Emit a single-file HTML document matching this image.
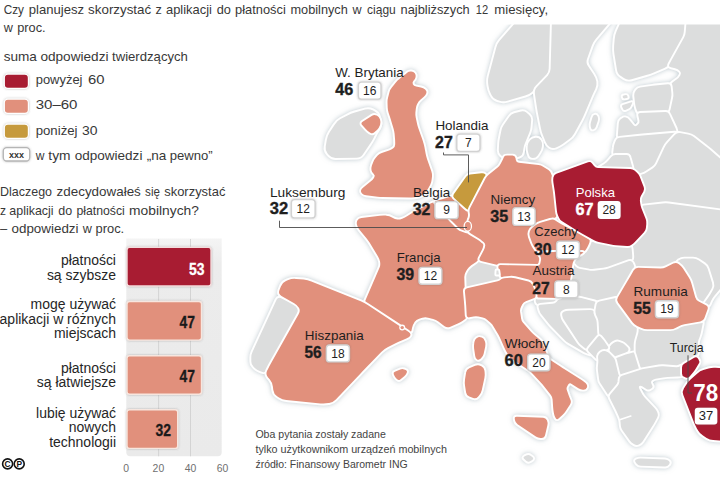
<!DOCTYPE html>
<html><head><meta charset="utf-8"><title>Infografika</title>
<style>
html,body{margin:0;padding:0;background:#fff;}
body{width:720px;height:497px;overflow:hidden;}
svg{display:block;font-family:"Liberation Sans",sans-serif;}
.land path,.land circle,.land ellipse{stroke:#fff;stroke-width:3.8;stroke-linejoin:round;paint-order:stroke;}
</style></head><body>
<svg width="720" height="497" viewBox="0 0 720 497">
<defs>
<clipPath id="mapclip"><rect x="236" y="24.5" width="484" height="472.5"/></clipPath>
<filter id="glow" x="-5%" y="-5%" width="110%" height="110%">
<feGaussianBlur in="SourceAlpha" stdDeviation="2.4" result="b"/>
<feFlood flood-color="#8da1ab" flood-opacity="0.6"/><feComposite in2="b" operator="in" result="s"/>
<feMerge><feMergeNode in="s"/><feMergeNode in="SourceGraphic"/></feMerge>
</filter>
<filter id="glow2" x="-20%" y="-30%" width="140%" height="160%">
<feGaussianBlur in="SourceAlpha" stdDeviation="1.2" result="b"/>
<feFlood flood-color="#555" flood-opacity="0.38"/><feComposite in2="b" operator="in" result="s"/>
<feMerge><feMergeNode in="s"/><feMergeNode in="SourceGraphic"/></feMerge>
</filter>
<linearGradient id="pg" x1="0" y1="0" x2="0" y2="1"><stop offset="0" stop-color="#f4f4f4"/><stop offset="0.12" stop-color="#ececec"/><stop offset="1" stop-color="#eaeaea"/></linearGradient>
</defs>
<rect width="720" height="497" fill="#fff"/>
<g class="land">
<g clip-path="url(#mapclip)"><g filter="url(#glow)">
<path d="M516.9 21.0 Q519.5 18.0 523.5 18.0 L548.0 18.0 Q552.0 18.0 551.9 22.0 L550.6 68.8 Q550.5 72.8 547.8 75.7 L537.0 87.1 Q534.3 90.0 531.6 92.2 L531.6 92.2 Q528.9 94.5 525.1 95.6 L507.3 100.7 Q503.5 101.8 499.7 100.7 L497.4 100.1 Q493.6 99.0 491.8 95.4 L490.8 93.6 Q489.0 90.0 488.5 86.0 L488.2 84.0 Q487.7 80.0 488.7 76.1 L496.3 47.4 Q497.3 43.5 499.9 40.5Z" fill="#dcdddd"/>
<path d="M551.9 22.0 Q552.0 18.0 556.0 18.0 L609.5 18.0 Q613.5 18.0 610.9 21.0 L595.6 39.0 Q593.0 42.0 591.7 45.8 L587.0 58.9 Q585.7 62.7 587.9 66.0 L593.5 74.5 Q595.7 77.8 596.4 81.6 L596.4 81.6 Q597.0 85.4 595.3 89.0 L593.9 91.8 Q592.2 95.4 590.7 99.1 L584.7 113.3 Q583.2 117.0 581.3 120.5 L574.2 133.5 Q572.3 137.0 569.0 139.3 L562.9 143.7 Q559.6 146.0 556.0 147.4 L556.0 147.4 Q552.4 148.8 549.7 147.0 L549.7 147.0 Q547.0 145.2 545.5 141.5 L543.0 135.3 Q541.5 131.6 540.8 127.7 L537.7 111.9 Q537.0 108.0 536.4 104.0 L534.9 94.0 Q534.3 90.0 537.0 87.1 L547.8 75.7 Q550.5 72.8 550.6 68.8Z" fill="#dcdddd"/>
<path d="M592.5 117.2 Q593.0 115.3 594.9 114.8 L594.9 114.8 Q596.7 114.4 597.4 116.3 L597.8 117.1 Q598.5 119.0 597.8 120.9 L595.7 127.1 Q595.0 129.0 593.1 129.4 L593.1 129.4 Q591.3 129.8 591.0 127.8 L590.7 126.4 Q590.4 124.4 590.9 122.5Z" fill="#dcdddd"/>
<path d="M620.9 21.7 Q622.5 18.0 626.5 18.0 L682.8 18.0 Q686.8 18.0 686.5 22.0 L685.8 31.0 Q685.5 35.0 683.6 38.5 L674.9 54.2 Q673.0 57.7 671.0 61.2 L670.0 63.0 Q668.0 66.5 664.3 68.0 L653.7 72.5 Q650.0 74.0 646.2 75.1 L631.5 79.3 Q627.7 80.4 624.3 78.3 L621.0 76.1 Q617.6 74.0 617.0 70.0 L614.4 54.0 Q613.8 50.0 614.1 46.0 L614.7 39.0 Q615.0 35.0 616.6 31.3Z" fill="#dcdddd"/>
<path d="M686.6 21.0 Q686.8 18.0 689.8 18.0 L722.0 18.0 Q725.0 18.0 725.0 21.0 L725.0 160.0 Q725.0 163.0 722.8 161.0 L710.2 150.0 Q708.0 148.0 705.6 146.2 L693.4 136.8 Q691.0 135.0 688.1 134.4 L683.4 133.6 Q680.5 133.0 678.6 131.8 L678.6 131.8 Q676.7 130.7 675.4 128.0 L669.3 114.5 Q668.0 111.8 668.7 108.9 L671.0 98.3 Q671.7 95.4 671.4 92.4 L670.7 87.0 Q670.4 84.0 672.8 82.3 L676.6 79.6 Q679.0 77.9 680.4 75.3 L680.4 75.3 Q681.8 72.8 679.9 70.9 L679.9 70.9 Q678.0 69.0 675.1 68.3 L670.9 67.2 Q668.0 66.5 669.5 63.9 L671.5 60.3 Q673.0 57.7 674.4 55.1 L684.1 37.6 Q685.5 35.0 685.7 32.0Z" fill="#dcdddd"/>
<path d="M634.2 95.5 Q634.0 93.0 635.5 91.0 L636.2 90.0 Q637.7 88.0 640.2 87.6 L652.5 85.8 Q655.0 85.4 657.5 85.2 L667.9 84.2 Q670.4 84.0 670.7 86.5 L671.4 92.9 Q671.7 95.4 671.1 97.8 L668.6 109.4 Q668.0 111.8 665.5 111.9 L640.2 112.9 Q637.7 113.0 636.9 110.6 L636.0 107.9 Q635.2 105.5 635.0 103.0Z" fill="#dcdddd"/>
<path d="M622.7 96.7 Q622.5 95.5 623.7 95.4 L625.8 95.1 Q627.0 95.0 627.4 96.1 L627.6 96.9 Q628.0 98.0 626.8 98.1 L624.2 98.4 Q623.0 98.5 622.8 97.3Z" fill="#dcdddd"/>
<path d="M622.1 106.8 Q621.4 105.5 622.8 105.0 L631.3 102.3 Q632.7 101.8 632.1 103.2 L630.6 106.6 Q630.0 108.0 628.6 108.6 L625.4 109.9 Q624.0 110.5 623.3 109.2Z" fill="#dcdddd"/>
<path d="M638.3 115.4 Q637.7 113.0 640.2 112.9 L665.5 111.9 Q668.0 111.8 669.0 114.1 L675.7 128.4 Q676.7 130.7 676.1 132.6 L676.1 132.6 Q675.5 134.5 673.0 134.6 L642.5 135.6 Q640.0 135.7 637.5 136.0 L620.1 137.7 Q617.6 138.0 617.8 135.5 L618.8 123.1 Q619.0 120.6 621.0 119.1 L622.0 118.4 Q624.0 116.9 625.9 117.5 L625.9 117.5 Q627.7 118.0 629.3 119.9 L633.4 125.1 Q635.0 127.0 637.0 125.4 L638.0 124.6 Q640.0 123.0 639.4 120.6Z" fill="#dcdddd"/>
<path d="M616.0 140.3 Q617.0 138.0 619.5 137.8 L637.5 135.9 Q640.0 135.7 642.5 135.5 L674.5 132.7 Q677.0 132.5 675.3 134.4 L667.4 143.1 Q665.7 145.0 664.6 147.3 L656.7 164.2 Q655.6 166.5 653.5 167.9 L646.4 172.6 Q644.3 174.0 641.8 174.5 L641.8 174.5 Q639.3 175.0 637.3 173.4 L635.0 171.6 Q633.0 170.0 632.4 167.6 L629.6 157.4 Q629.0 155.0 626.5 155.0 L615.5 155.0 Q613.0 155.0 613.2 152.5 L613.8 147.5 Q614.0 145.0 615.0 142.7Z" fill="#dcdddd"/>
<path d="M611.4 156.9 Q613.0 155.0 615.5 155.0 L626.5 155.0 Q629.0 155.0 629.6 157.4 L632.4 167.6 Q633.0 170.0 630.5 169.9 L599.1 169.1 Q596.6 169.0 598.7 167.7 L604.5 164.0 Q606.6 162.7 608.2 160.8Z" fill="#dcdddd"/>
<path d="M675.0 134.7 Q677.0 132.5 680.0 133.0 L688.0 134.5 Q691.0 135.0 693.4 136.8 L705.6 146.2 Q708.0 148.0 710.2 150.0 L722.8 161.0 Q725.0 163.0 725.0 166.0 L725.0 208.0 Q725.0 211.0 722.0 210.6 L668.7 203.4 Q665.7 203.0 662.7 203.3 L643.6 205.1 Q640.6 205.4 640.0 202.5 L639.9 201.9 Q639.3 199.0 640.8 196.4 L642.8 192.9 Q644.3 190.3 643.4 187.4 L640.2 177.9 Q639.3 175.0 641.8 174.5 L641.8 174.5 Q644.3 174.0 646.8 172.3 L653.1 168.2 Q655.6 166.5 656.9 163.8 L664.4 147.7 Q665.7 145.0 667.7 142.8Z" fill="#dcdddd"/>
<path d="M645.2 224.8 Q645.6 221.8 644.7 218.9 L641.5 208.9 Q640.6 206.0 643.6 205.6 L662.7 203.4 Q665.7 203.0 668.7 203.4 L722.0 210.6 Q725.0 211.0 725.0 214.0 L725.0 280.0 Q725.0 283.0 723.1 285.3 L714.1 296.1 Q712.2 298.4 711.0 301.1 L709.8 303.9 Q708.6 306.6 705.9 305.2 L698.7 301.6 Q696.0 300.2 695.2 297.3 L691.3 283.2 Q690.5 280.3 688.9 277.8 L683.0 268.4 Q681.4 265.9 678.9 264.2 L678.5 263.9 Q676.0 262.2 673.3 263.6 L666.0 267.2 Q663.3 268.6 660.3 268.5 L638.3 267.8 Q635.3 267.7 633.9 265.0 L632.9 263.0 Q631.5 260.3 632.0 259.0 L632.0 259.0 Q632.4 257.6 632.2 254.6 L631.7 249.7 Q631.5 246.7 632.4 244.8 L632.4 244.8 Q633.3 243.0 635.3 240.8 L642.3 232.8 Q644.3 230.6 644.7 227.6Z" fill="#dcdddd"/>
<path d="M678.5 263.9 Q676.0 262.2 678.5 260.5 L678.9 260.3 Q681.4 258.6 684.4 258.6 L693.0 258.6 Q696.0 258.6 698.5 260.3 L704.3 264.2 Q706.8 265.9 707.7 268.8 L712.1 282.9 Q713.0 285.8 711.6 288.4 L710.0 291.3 Q708.6 293.9 706.8 296.3 L703.2 301.5 Q701.4 303.9 698.9 302.2 L698.5 301.9 Q696.0 300.2 695.2 297.3 L691.3 283.2 Q690.5 280.3 688.9 277.8 L683.0 268.4 Q681.4 265.9 678.9 264.2Z" fill="#dcdddd"/>
<path d="M588.9 243.5 Q590.0 241.3 592.5 241.7 L610.9 244.6 Q613.4 245.0 615.9 245.1 L627.2 245.7 Q629.7 245.8 630.6 246.2 L630.6 246.2 Q631.5 246.7 631.7 249.2 L632.2 255.1 Q632.4 257.6 632.0 259.0 L632.0 259.0 Q631.5 260.3 629.1 261.1 L608.4 268.5 Q606.0 269.3 603.5 269.6 L594.2 270.7 Q591.7 271.0 589.2 270.6 L579.5 268.8 Q577.0 268.4 575.4 266.5 L574.1 264.9 Q572.5 263.0 573.6 260.8 L573.9 260.2 Q575.0 258.0 577.1 256.7 L582.4 253.3 Q584.5 252.0 585.6 249.8Z" fill="#dcdddd"/>
<path d="M572.2 265.5 Q572.5 263.0 574.1 264.9 L575.4 266.5 Q577.0 268.4 579.5 268.8 L589.2 270.6 Q591.7 271.0 594.2 270.7 L603.5 269.6 Q606.0 269.3 608.4 268.5 L629.1 261.1 Q631.5 260.3 632.6 262.5 L633.9 265.3 Q635.0 267.5 633.8 269.7 L630.2 276.3 Q629.0 278.5 627.7 280.7 L619.3 295.2 Q618.0 297.4 615.6 297.9 L599.4 301.5 Q597.0 302.0 594.6 301.4 L581.4 298.0 Q579.0 297.4 576.5 297.5 L562.5 297.9 Q560.0 298.0 561.8 296.2 L566.2 291.8 Q568.0 290.0 568.5 287.5 L570.5 277.5 Q571.0 275.0 571.3 272.5Z" fill="#dcdddd"/>
<path d="M536.6 303.3 Q535.4 301.7 535.7 299.7 L535.7 299.5 Q536.0 297.5 538.0 297.5 L558.0 298.0 Q560.0 298.0 560.0 299.0 L560.0 299.0 Q560.0 300.0 558.4 301.1 L556.6 302.4 Q555.0 303.5 553.0 303.7 L540.0 304.8 Q538.0 305.0 536.8 303.4Z" fill="#dcdddd"/>
<path d="M538.6 307.4 Q538.0 305.0 540.5 304.8 L552.5 303.7 Q555.0 303.5 556.7 301.7 L558.3 299.8 Q560.0 298.0 562.5 297.9 L576.5 297.5 Q579.0 297.4 581.4 298.0 L594.6 301.4 Q597.0 302.0 596.5 304.5 L595.5 310.1 Q595.0 312.6 593.7 311.3 L593.7 311.3 Q592.4 310.0 589.9 310.1 L568.5 310.7 Q566.0 310.8 563.9 311.7 L563.9 311.7 Q561.7 312.6 562.1 315.1 L562.2 315.5 Q562.6 318.0 564.0 320.1 L578.4 341.9 Q579.8 344.0 581.8 345.5 L585.2 348.3 Q587.2 349.8 588.9 351.6 L590.3 353.2 Q592.0 355.0 589.6 354.2 L586.7 353.2 Q584.3 352.4 582.2 351.1 L568.1 342.8 Q566.0 341.5 564.3 339.7 L551.7 326.8 Q550.0 325.0 548.4 323.1 L541.6 314.5 Q540.0 312.6 539.4 310.2Z" fill="#dcdddd"/>
<path d="M562.1 315.1 Q561.7 312.6 563.9 311.7 L563.9 311.7 Q566.0 310.8 568.5 310.7 L589.9 310.1 Q592.4 310.0 593.7 311.3 L593.7 311.3 Q595.0 312.6 596.1 314.9 L597.4 317.7 Q598.5 320.0 598.6 322.5 L599.2 332.8 Q599.3 335.3 597.7 337.2 L588.8 347.9 Q587.2 349.8 585.2 348.3 L581.8 345.5 Q579.8 344.0 578.4 341.9 L564.0 320.1 Q562.6 318.0 562.2 315.5Z" fill="#dcdddd"/>
<path d="M596.5 304.5 Q597.0 302.0 599.4 301.5 L615.6 297.9 Q618.0 297.4 619.3 299.5 L633.1 322.6 Q634.4 324.7 635.8 326.8 L637.4 329.2 Q638.8 331.3 638.1 333.7 L636.3 340.1 Q635.6 342.5 635.6 345.0 L635.6 349.7 Q635.6 352.2 635.2 352.2 L635.2 352.2 Q634.8 352.2 632.4 352.7 L629.9 353.3 Q627.5 353.8 627.5 353.0 L627.5 353.0 Q627.5 352.2 628.3 350.6 L628.3 350.6 Q629.1 349.0 627.3 347.2 L625.3 345.2 Q623.5 343.4 621.2 342.5 L619.3 341.9 Q617.0 341.0 614.8 342.2 L613.6 343.0 Q611.4 344.2 610.2 346.2 L610.2 346.2 Q609.0 348.2 607.6 346.1 L605.6 343.1 Q604.2 341.0 602.6 339.1 L600.9 337.2 Q599.3 335.3 599.2 332.8 L598.6 322.5 Q598.5 320.0 597.4 317.7 L596.1 314.9 Q595.0 312.6 595.5 310.1Z" fill="#dcdddd"/>
<path d="M609.4 349.8 Q609.0 348.2 610.0 346.5 L610.4 345.9 Q611.4 344.2 613.1 343.2 L615.3 342.0 Q617.0 341.0 618.9 341.7 L621.6 342.7 Q623.5 343.4 624.9 344.8 L627.7 347.6 Q629.1 349.0 628.3 350.6 L628.3 350.6 Q627.5 352.2 625.7 353.1 L616.4 357.7 Q614.6 358.6 613.5 356.9 L610.9 353.1 Q609.8 351.4 609.4 349.8Z" fill="#dcdddd"/>
<path d="M615.1 360.5 Q614.6 358.6 616.5 357.9 L625.6 354.5 Q627.5 353.8 629.5 353.4 L632.8 352.6 Q634.8 352.2 635.6 353.0 L635.6 353.0 Q636.4 353.8 637.0 355.7 L640.6 367.6 Q641.2 369.5 639.3 370.1 L621.9 375.9 Q620.0 376.5 619.3 375.6 L619.3 375.6 Q618.6 374.8 618.1 372.9Z" fill="#dcdddd"/>
<path d="M588.6 351.2 Q587.2 349.8 588.5 348.3 L598.0 336.8 Q599.3 335.3 600.6 336.8 L602.9 339.5 Q604.2 341.0 605.3 342.7 L607.9 346.5 Q609.0 348.2 607.2 349.1 L606.0 349.7 Q604.2 350.6 602.3 351.3 L602.0 351.5 Q600.1 352.2 599.1 353.9 L598.7 354.5 Q597.7 356.2 597.7 358.2 L597.7 358.3 Q597.7 360.3 596.3 358.9Z" fill="#dcdddd"/>
<path d="M598.3 362.3 Q598.5 360.3 598.1 358.3 L598.1 358.2 Q597.7 356.2 598.7 354.5 L599.1 353.9 Q600.1 352.2 602.0 351.5 L602.3 351.3 Q604.2 350.6 606.1 351.3 L606.3 351.5 Q608.2 352.2 609.6 353.6 L613.2 357.2 Q614.6 358.6 615.1 360.5 L618.1 372.9 Q618.6 374.8 619.3 375.9 L619.3 375.9 Q620.0 377.0 619.7 379.0 L619.4 382.1 Q619.1 384.1 617.8 385.6 L610.3 394.7 Q609.0 396.2 607.9 394.5 L600.4 382.9 Q599.3 381.2 599.1 379.2 L597.9 370.3 Q597.7 368.3 597.9 366.3Z" fill="#dcdddd"/>
<path d="M638.6 329.6 Q638.4 328.0 640.8 328.5 L641.9 328.7 Q644.3 329.2 646.8 329.2 L670.8 329.2 Q673.3 329.2 675.5 328.0 L679.2 325.9 Q681.4 324.7 683.9 324.3 L700.7 321.4 Q703.2 321.0 702.7 323.5 L701.0 332.1 Q700.5 334.6 699.6 336.9 L698.5 339.7 Q697.6 342.0 697.9 344.5 L698.5 349.2 Q698.8 351.7 697.7 353.9 L697.5 354.3 Q696.4 356.5 694.2 357.8 L684.2 363.7 Q682.0 365.0 680.1 366.2 L680.1 366.2 Q678.3 367.4 675.8 367.2 L663.5 366.2 Q661.0 366.0 658.5 366.4 L643.7 369.1 Q641.2 369.5 640.5 367.1 L637.1 356.2 Q636.4 353.8 636.0 353.0 L636.0 353.0 Q635.6 352.2 635.6 349.7 L635.6 345.0 Q635.6 342.5 636.3 340.1 L638.1 333.7 Q638.8 331.3 638.6 329.6Z" fill="#dcdddd"/>
<path d="M610.0 398.2 Q609.0 396.2 610.4 394.5 L617.7 385.8 Q619.1 384.1 619.4 381.9 L619.7 378.7 Q620.0 376.5 622.1 375.8 L639.1 370.2 Q641.2 369.5 643.4 369.1 L658.8 366.4 Q661.0 366.0 663.2 366.2 L676.1 367.2 Q678.3 367.4 680.1 366.2 L680.2 366.2 Q682.0 365.0 682.0 367.2 L682.0 373.7 Q682.0 375.9 680.8 376.2 L680.8 376.2 Q679.5 376.5 677.3 376.6 L667.6 376.9 Q665.4 377.0 663.2 377.4 L655.6 378.7 Q653.4 379.1 651.8 380.6 L651.8 380.6 Q650.3 382.1 651.5 384.0 L652.2 385.2 Q653.4 387.1 651.5 388.2 L650.2 389.0 Q648.3 390.1 646.4 388.9 L642.2 386.3 Q640.3 385.1 639.3 386.1 L639.3 386.1 Q638.3 387.1 639.4 389.0 L642.2 394.3 Q643.3 396.2 644.8 397.8 L654.9 408.6 Q656.4 410.2 657.2 412.2 L657.6 413.3 Q658.4 415.3 657.3 417.2 L654.5 422.4 Q653.4 424.3 652.2 426.2 L642.5 441.5 Q641.3 443.4 639.3 444.2 L638.2 444.7 Q636.2 445.5 634.3 444.3 L633.1 443.6 Q631.2 442.4 629.9 440.6 L622.5 430.2 Q621.2 428.4 620.9 426.2 L620.5 422.0 Q620.2 419.8 619.4 417.8 L617.9 414.3 Q617.1 412.3 616.1 410.3Z" fill="#dcdddd"/>
<path d="M635.8 462.4 Q634.2 460.5 636.2 459.5 L636.2 459.5 Q638.3 458.5 640.8 458.6 L664.9 459.4 Q667.4 459.5 668.9 461.1 L669.0 461.1 Q670.5 462.6 669.0 464.6 L668.9 464.6 Q667.4 466.6 664.9 466.5 L640.8 465.7 Q638.3 465.6 636.7 463.7Z" fill="#dcdddd"/>
<path d="M524.4 459.1 Q522.5 457.5 524.7 456.3 L526.3 455.5 Q528.5 454.3 530.5 455.8 L532.2 457.0 Q534.2 458.5 532.2 460.0 L530.5 461.1 Q528.5 462.6 526.6 461.0Z" fill="#dcdddd"/>
<path d="M500.8 155.0 Q498.6 153.0 498.8 150.0 L499.1 143.8 Q499.3 140.8 499.9 137.9 L501.4 130.4 Q502.0 127.5 503.7 125.0 L509.6 116.5 Q511.3 114.0 514.2 113.2 L521.1 111.4 Q524.0 110.6 526.3 112.6 L529.1 115.0 Q531.4 117.0 531.2 120.0 L530.6 127.0 Q530.4 130.0 529.2 132.8 L524.8 143.4 Q523.6 146.2 523.3 149.2 L522.9 152.0 Q522.6 155.0 519.9 156.2 L518.7 156.8 Q516.0 158.0 513.0 158.0 L507.2 158.0 Q504.2 158.0 502.0 156.0Z" fill="#dcdddd"/>
<path d="M527.8 145.5 Q528.0 142.5 530.1 140.4 L530.4 140.1 Q532.5 138.0 535.5 137.7 L535.8 137.7 Q538.8 137.4 540.5 139.9 L540.7 140.0 Q542.4 142.5 542.0 145.5 L541.9 146.7 Q541.5 149.7 539.8 152.2 L537.7 155.4 Q536.0 157.9 533.0 157.9 L532.8 157.9 Q529.8 157.9 529.0 155.0 L528.2 152.6 Q527.4 149.7 527.6 146.7Z" fill="#dcdddd"/>
<path d="M334.9 124.4 Q337.0 121.0 340.5 119.1 L347.5 115.4 Q351.0 113.5 354.9 112.4 L365.1 109.6 Q369.0 108.5 372.6 110.3 L374.4 111.2 Q378.0 113.0 379.0 116.9 L380.0 121.1 Q381.0 125.0 378.9 128.4 L378.1 129.6 Q376.0 133.0 374.2 136.6 L373.8 137.4 Q372.0 141.0 369.7 144.3 L362.8 154.4 Q360.5 157.7 356.5 157.7 L335.5 158.0 Q331.5 158.0 328.9 155.0 L327.6 153.5 Q325.0 150.5 325.7 146.6 L326.8 139.9 Q327.5 136.0 329.6 132.6Z" fill="#dcdddd"/>
<path d="M276.7 299.5 Q278.0 296.8 280.8 298.0 L294.9 304.0 Q297.7 305.2 299.1 307.9 L299.2 308.1 Q300.6 310.8 299.1 313.4 L271.1 363.2 Q269.6 365.8 268.1 368.4 L266.9 370.2 Q265.4 372.8 262.6 371.9 L259.7 370.9 Q256.9 370.0 254.8 367.9 L253.4 366.5 Q251.3 364.4 251.3 361.4 L251.3 357.5 Q251.3 354.5 252.6 351.8Z" fill="#dcdddd"/>
<path d="M476.5 261.7 Q478.6 260.3 481.0 260.9 L497.6 264.7 Q500.0 265.3 499.6 267.8 L499.4 269.5 Q499.0 272.0 500.0 274.3 L500.7 276.2 Q501.7 278.5 500.9 279.6 L500.9 279.6 Q500.0 280.7 497.6 281.3 L467.1 288.3 Q464.7 288.9 464.6 286.4 L464.3 276.9 Q464.2 274.4 465.5 272.3 L467.4 269.1 Q468.7 267.0 470.8 265.6Z" fill="#dcdddd"/>
<path d="M403.6 75.6 Q405.6 74.1 407.2 72.7 L407.2 72.7 Q408.8 71.3 411.2 71.5 L411.2 71.5 Q413.6 71.7 414.8 73.3 L414.8 73.3 Q416.0 74.9 415.6 76.9 L415.6 76.9 Q415.2 78.9 413.6 80.5 L413.6 80.5 Q412.0 82.1 412.8 84.2 L412.8 84.2 Q413.6 86.2 416.1 86.6 L420.8 87.4 Q423.3 87.8 425.1 89.4 L425.1 89.4 Q427.0 91.0 426.4 93.0 L426.4 93.0 Q425.7 95.0 423.8 96.7 L420.3 99.8 Q418.4 101.5 417.3 103.7 L417.1 104.1 Q416.0 106.3 415.8 108.8 L415.4 112.6 Q415.2 115.1 415.7 117.5 L417.1 124.0 Q417.6 126.4 418.5 128.8 L420.8 135.3 Q421.7 137.7 422.5 140.1 L423.1 142.1 Q423.9 144.5 424.4 147.0 L425.7 154.1 Q426.2 156.6 427.0 159.0 L431.4 171.5 Q432.2 173.9 432.0 176.4 L431.6 179.7 Q431.4 182.2 430.3 184.5 L430.3 184.5 Q429.2 186.8 427.8 188.9 L426.4 190.9 Q425.0 193.0 423.0 194.4 L422.0 195.1 Q420.0 196.5 417.5 196.8 L414.3 197.3 Q411.8 197.6 409.3 197.6 L382.7 197.0 Q380.2 197.0 377.7 196.7 L366.1 195.3 Q363.6 195.0 362.1 193.5 L362.1 193.5 Q360.6 192.0 361.0 190.5 L361.0 190.5 Q361.3 189.0 363.3 187.4 L370.6 181.6 Q372.6 180.0 374.0 177.9 L374.2 177.5 Q375.6 175.4 373.8 173.9 L373.8 173.9 Q371.9 172.4 371.5 170.2 L371.5 170.2 Q371.1 167.9 371.9 165.5 L373.3 162.0 Q374.1 159.6 375.8 157.7 L377.7 155.5 Q379.4 153.6 381.8 152.9 L389.1 150.5 Q391.5 149.8 393.4 148.3 L393.3 148.3 Q395.2 146.8 395.2 144.3 L395.2 142.5 Q395.2 140.0 394.9 137.5 L394.6 133.7 Q394.3 131.2 393.6 128.8 L391.7 122.4 Q391.0 120.0 390.2 117.6 L388.6 112.7 Q387.8 110.3 387.7 107.8 L387.5 102.3 Q387.4 99.8 388.1 97.4 L389.6 91.8 Q390.3 89.4 391.9 87.5 L395.9 82.4 Q397.5 80.5 399.5 79.0Z" fill="#e1907b"/>
<path d="M362.2 125.1 Q360.5 123.2 362.6 121.8 L372.1 115.7 Q374.2 114.3 376.4 115.4 L376.8 115.6 Q379.0 116.7 379.8 119.1 L380.1 120.0 Q380.9 122.4 380.1 124.8 L379.8 125.6 Q379.0 128.0 377.2 129.7 L374.3 132.3 Q372.5 134.0 370.3 132.7 L369.9 132.5 Q367.7 131.2 366.0 129.3Z" fill="#e1907b"/>
<path d="M357.1 225.2 Q356.3 222.5 357.4 220.4 L357.4 220.4 Q358.5 218.3 361.5 217.9 L379.8 215.8 Q382.8 215.4 385.8 215.6 L386.4 215.7 Q389.4 215.9 392.0 217.4 L392.4 217.7 Q395.0 219.2 397.2 219.5 L397.2 219.5 Q399.4 219.8 402.2 218.7 L402.2 218.7 Q405.0 217.6 407.5 216.0 L411.4 213.6 Q413.9 212.0 416.6 210.6 L431.6 203.1 Q434.3 201.7 436.3 203.9 L449.0 218.0 Q451.0 220.2 453.1 222.3 L458.0 227.1 Q460.1 229.2 462.9 230.1 L465.2 230.9 Q468.0 231.8 470.6 233.4 L477.7 237.7 Q480.3 239.3 482.6 241.2 L483.2 241.6 Q485.5 243.5 485.2 245.7 L485.2 245.7 Q485.0 247.8 483.6 250.5 L480.0 257.6 Q478.6 260.3 476.1 262.0 L471.2 265.3 Q468.7 267.0 467.1 269.6 L465.8 271.8 Q464.2 274.4 464.3 277.4 L464.6 285.9 Q464.7 288.9 465.0 291.9 L465.7 300.3 Q466.0 303.3 466.2 306.3 L466.7 314.8 Q466.9 317.8 464.5 319.5 L462.4 321.0 Q460.0 322.7 457.2 323.8 L449.8 326.9 Q447.0 328.0 444.6 326.2 L438.4 321.4 Q436.0 319.6 433.1 318.9 L428.1 317.7 Q425.2 317.0 422.3 317.8 L419.1 318.8 Q416.2 319.6 414.5 322.1 L414.3 322.5 Q412.6 325.0 412.0 327.9 L411.5 330.6 Q410.9 333.5 408.4 331.8 L404.5 329.3 Q402.0 327.6 399.5 325.9 L366.9 304.5 Q364.4 302.8 365.6 300.0 L379.5 267.8 Q380.7 265.0 380.1 262.1 L380.1 261.8 Q379.5 258.9 377.9 256.3 L369.6 242.6 Q368.0 240.0 366.1 237.7 L359.9 230.3 Q358.0 228.0 357.1 225.2Z" fill="#e1907b"/>
<path d="M435.6 203.2 Q434.3 201.7 436.2 201.1 L450.5 196.8 Q452.4 196.2 453.9 197.6 L465.7 208.4 Q467.2 209.8 468.2 209.8 L468.2 209.8 Q469.2 209.8 469.5 211.8 L469.9 214.1 Q470.2 216.1 469.4 218.0 L468.8 219.6 Q468.0 221.5 468.0 223.5 L468.0 229.8 Q468.0 231.8 466.1 231.2 L462.0 229.8 Q460.1 229.2 458.7 227.8 L452.4 221.6 Q451.0 220.2 449.7 218.7Z" fill="#e1907b"/>
<path d="M466.2 176.8 Q467.6 174.8 470.1 174.5 L481.5 173.2 Q484.0 172.9 485.4 174.6 L485.4 174.6 Q486.8 176.3 485.6 178.5 L470.4 207.6 Q469.2 209.8 468.2 209.8 L468.2 209.8 Q467.2 209.8 465.4 208.1 L454.2 197.9 Q452.4 196.2 453.8 194.2Z" fill="#c69a3c"/>
<path d="M485.6 178.5 Q486.8 176.3 488.7 174.7 L497.7 167.6 Q499.6 166.0 500.7 163.8 L502.5 160.2 Q503.6 158.0 504.1 156.8 L504.1 156.8 Q504.6 155.6 507.1 155.6 L512.5 155.6 Q515.0 155.6 515.5 158.1 L515.8 159.9 Q516.3 162.4 518.8 162.7 L538.5 165.1 Q541.0 165.4 543.1 166.8 L548.4 170.1 Q550.5 171.5 551.2 173.9 L551.8 175.6 Q552.5 178.0 552.7 180.5 L554.8 201.0 Q555.0 203.5 555.6 205.9 L557.2 212.9 Q557.8 215.3 555.9 216.9 L555.2 217.4 Q553.3 219.0 550.9 219.7 L540.4 222.7 Q538.0 223.4 536.0 224.9 L532.7 227.4 Q530.7 228.9 529.9 231.3 L529.7 231.9 Q528.9 234.3 529.8 236.6 L532.1 242.7 Q533.0 245.0 534.4 247.1 L536.6 250.4 Q538.0 252.5 539.3 254.6 L540.2 255.9 Q541.5 258.0 540.9 260.4 L540.3 263.5 Q539.7 265.9 537.2 265.8 L500.5 265.1 Q498.0 265.0 495.6 264.4 L481.0 260.9 Q478.6 260.3 479.7 258.1 L483.9 250.0 Q485.0 247.8 485.2 245.7 L485.2 245.7 Q485.5 243.5 483.6 241.9 L482.2 240.9 Q480.3 239.3 478.2 238.0 L470.1 233.1 Q468.0 231.8 468.0 229.3 L468.0 224.0 Q468.0 221.5 468.9 219.2 L469.3 218.4 Q470.2 216.1 469.8 213.6 L469.6 212.3 Q469.2 209.8 470.4 207.6Z" fill="#e1907b"/>
<path d="M550.9 219.7 Q553.3 219.0 555.3 220.4 L557.6 222.0 Q559.6 223.4 561.8 224.5 L575.5 231.4 Q577.7 232.5 579.9 233.7 L588.2 238.5 Q590.4 239.7 589.6 242.1 L589.4 242.6 Q588.6 245.0 587.3 247.2 L585.8 249.8 Q584.5 252.0 582.0 252.0 L558.5 251.8 Q556.0 251.8 553.5 251.9 L540.5 252.4 Q538.0 252.5 536.6 250.4 L534.4 247.1 Q533.0 245.0 532.1 242.7 L529.8 236.6 Q528.9 234.3 529.7 231.9 L529.9 231.3 Q530.7 228.9 532.7 227.4 L536.0 224.9 Q538.0 223.4 540.4 222.7Z" fill="#e1907b"/>
<path d="M498.4 267.5 Q498.0 265.0 500.5 265.1 L537.2 265.8 Q539.7 265.9 540.3 263.5 L540.9 260.4 Q541.5 258.0 540.2 255.9 L539.3 254.6 Q538.0 252.5 540.5 252.4 L553.5 251.9 Q556.0 251.8 558.5 251.8 L582.0 252.0 Q584.5 252.0 582.4 253.3 L577.1 256.7 Q575.0 258.0 573.9 260.2 L573.6 260.8 Q572.5 263.0 572.2 265.5 L571.3 272.5 Q571.0 275.0 570.5 277.5 L568.5 287.5 Q568.0 290.0 566.2 291.8 L561.8 296.2 Q560.0 298.0 557.5 297.9 L538.5 297.6 Q536.0 297.5 535.5 295.1 L534.5 290.9 Q534.0 288.5 532.9 286.3 L531.8 284.2 Q530.7 282.0 528.3 281.4 L515.0 278.2 Q512.6 277.6 510.1 277.8 L504.2 278.3 Q501.7 278.5 500.7 276.2 L500.0 274.3 Q499.0 272.0 498.6 269.5Z" fill="#e1907b"/>
<path d="M553.6 177.0 Q554.0 174.5 556.4 173.7 L588.1 162.3 Q590.5 161.5 592.0 163.5 L594.0 166.0 Q595.5 168.0 598.0 168.1 L630.1 168.9 Q632.6 169.0 634.5 170.6 L636.7 172.4 Q638.6 174.0 639.5 176.3 L643.7 186.9 Q644.6 189.2 643.4 191.4 L640.8 196.1 Q639.6 198.3 639.9 200.8 L640.3 203.8 Q640.6 206.3 641.5 208.6 L645.7 219.1 Q646.6 221.4 646.3 223.9 L645.9 228.0 Q645.6 230.5 643.9 232.3 L635.0 241.7 Q633.3 243.5 631.5 244.8 L631.5 244.8 Q629.7 246.2 627.2 246.0 L615.9 245.2 Q613.4 245.0 611.0 244.5 L598.7 242.0 Q596.3 241.5 594.1 240.3 L582.4 233.7 Q580.2 232.5 578.1 231.2 L562.2 221.3 Q560.1 220.0 559.1 217.7 L558.1 215.6 Q557.1 213.3 556.9 210.8 L555.3 195.7 Q555.1 193.2 554.7 190.7 L553.4 182.5 Q553.0 180.0 553.4 177.5Z" fill="#a81b30"/>
<path d="M464.9 291.4 Q464.7 288.9 467.1 288.3 L497.6 281.3 Q500.0 280.7 500.9 279.6 L500.9 279.6 Q501.7 278.5 504.2 278.3 L510.1 277.8 Q512.6 277.6 515.0 278.2 L528.3 281.4 Q530.7 282.0 531.8 284.2 L532.9 286.3 Q534.0 288.5 534.5 290.9 L535.5 295.1 Q536.0 297.5 533.6 298.3 L525.8 301.2 Q523.4 302.0 522.3 304.2 L520.9 307.1 Q519.8 309.3 520.1 311.8 L521.1 318.4 Q521.4 320.9 523.0 322.8 L530.7 331.6 Q532.3 333.5 534.3 335.1 L539.4 339.2 Q541.4 340.8 542.3 343.1 L547.7 356.6 Q548.6 358.9 550.7 360.3 L560.3 366.6 Q562.4 368.0 564.5 369.3 L581.9 380.3 Q584.0 381.6 585.8 383.3 L585.9 383.5 Q587.7 385.2 586.9 387.4 L586.9 387.4 Q586.0 389.7 583.5 389.7 L583.0 389.7 Q580.5 389.7 578.4 388.3 L571.7 383.9 Q569.6 382.5 568.2 384.6 L567.4 385.9 Q566.0 388.0 566.9 390.3 L568.7 395.6 Q569.6 397.9 570.5 400.1 L570.5 400.1 Q571.4 402.4 570.0 404.5 L565.6 411.2 Q564.2 413.3 562.4 415.0 L558.8 418.3 Q557.0 420.0 555.8 418.3 L555.8 418.3 Q554.5 416.6 554.1 414.1 L553.7 412.1 Q553.3 409.6 553.1 407.1 L552.6 399.5 Q552.4 397.0 550.9 395.0 L544.0 386.3 Q542.5 384.3 540.8 382.5 L531.5 372.5 Q529.8 370.7 527.7 369.4 L512.1 359.3 Q510.0 358.0 508.8 355.8 L506.2 351.2 Q505.0 349.0 504.0 346.7 L500.7 339.3 Q499.7 337.0 498.5 334.8 L493.7 326.7 Q492.5 324.5 490.6 322.8 L487.1 319.7 Q485.2 318.0 482.8 317.5 L478.4 316.5 Q476.0 316.0 473.5 316.5 L469.4 317.3 Q466.9 317.8 466.7 315.3 L466.2 305.8 Q466.0 303.3 465.8 300.8Z" fill="#e1907b"/>
<path d="M514.8 419.1 Q514.3 416.6 516.8 416.7 L543.2 417.7 Q545.7 417.8 546.7 420.1 L547.0 420.5 Q548.0 422.8 547.4 425.2 L545.0 435.6 Q544.4 438.0 541.9 438.0 L540.5 438.0 Q538.0 438.0 535.9 436.6 L517.6 424.2 Q515.5 422.8 515.0 420.3Z" fill="#e1907b"/>
<path d="M466.1 372.5 Q466.5 369.5 469.3 368.3 L475.2 365.8 Q478.0 364.6 480.7 365.9 L481.3 366.3 Q484.0 367.6 484.4 370.6 L484.6 372.0 Q485.0 375.0 484.4 377.9 L481.8 390.1 Q481.2 393.0 479.2 395.3 L478.0 396.7 Q476.0 399.0 473.2 398.0 L469.3 396.5 Q466.5 395.5 466.1 392.5 L465.0 385.4 Q464.6 382.4 465.0 379.4Z" fill="#e1907b"/>
<path d="M474.4 342.0 Q474.8 339.5 476.8 338.0 L477.0 338.0 Q479.0 336.5 481.3 337.5 L481.7 337.6 Q484.0 338.6 484.7 341.0 L485.1 342.0 Q485.8 344.4 485.2 346.8 L483.6 354.0 Q483.0 356.4 481.2 358.1 L480.8 358.6 Q479.0 360.3 477.2 359.4 L477.2 359.4 Q475.5 358.5 475.2 356.0 L474.1 348.5 Q473.8 346.0 474.2 343.5Z" fill="#e1907b"/>
<path d="M281.5 296.0 Q278.0 294.0 279.4 290.3 L280.9 286.4 Q282.3 282.7 286.0 281.1 L288.3 280.1 Q292.0 278.5 296.0 278.9 L303.6 279.5 Q307.6 279.9 311.3 281.4 L360.7 301.3 Q364.4 302.8 367.7 305.0 L398.7 325.4 Q402.0 327.6 405.3 329.8 L407.6 331.3 Q410.9 333.5 410.4 335.2 L410.4 335.2 Q410.0 337.0 406.3 338.5 L402.3 340.2 Q398.6 341.7 395.0 343.5 L387.6 347.2 Q384.0 349.0 381.2 351.9 L365.2 368.6 Q362.4 371.5 359.6 374.4 L335.8 399.5 Q333.0 402.4 329.1 403.1 L328.4 403.1 Q324.5 403.8 320.5 403.4 L286.3 400.0 Q282.3 399.6 279.0 397.4 L277.1 396.2 Q273.8 394.0 273.3 390.0 L272.9 386.7 Q272.4 382.7 269.9 379.6 L267.9 377.3 Q265.4 374.2 267.2 370.6 L267.8 369.4 Q269.6 365.8 271.6 362.3 L298.6 314.3 Q300.6 310.8 299.1 308.0 L299.1 308.0 Q297.7 305.2 294.2 303.2Z" fill="#e1907b"/>
<path d="M393.8 374.2 Q393.0 372.4 394.9 371.7 L400.3 369.5 Q402.2 368.8 404.1 369.4 L405.7 370.0 Q407.6 370.6 406.8 372.5 L406.6 373.1 Q405.8 375.0 404.2 376.2 L400.2 379.4 Q398.6 380.6 397.2 379.2 L396.4 378.4 Q395.0 377.0 394.2 375.2Z" fill="#e1907b"/>
<path d="M633.8 270.3 Q635.3 267.7 638.3 267.8 L660.3 268.5 Q663.3 268.6 666.0 267.2 L673.3 263.6 Q676.0 262.2 678.5 263.9 L678.9 264.2 Q681.4 265.9 683.0 268.4 L688.9 277.8 Q690.5 280.3 691.3 283.2 L695.2 297.3 Q696.0 300.2 698.7 301.6 L705.9 305.2 Q708.6 306.6 707.5 309.4 L704.3 318.2 Q703.2 321.0 700.2 321.5 L684.4 324.2 Q681.4 324.7 678.8 326.2 L675.9 327.7 Q673.3 329.2 670.3 329.2 L647.3 329.2 Q644.3 329.2 641.6 328.0 L637.1 325.9 Q634.4 324.7 632.6 322.3 L618.1 302.6 Q616.3 300.2 617.8 297.6 L627.5 281.1 Q629.0 278.5 630.5 275.9Z" fill="#e1907b"/>
<path d="M682.0 367.5 Q682.0 365.0 684.2 363.7 L694.2 357.8 Q696.4 356.5 697.9 358.5 L698.5 359.4 Q700.0 361.4 698.8 363.6 L696.4 367.6 Q695.2 369.8 693.6 371.7 L689.6 376.4 Q688.0 378.3 685.7 377.4 L684.3 376.8 Q682.0 375.9 682.0 373.4Z" fill="#a81b30"/>
<path d="M686.1 385.0 Q688.0 382.0 690.6 379.6 L697.4 373.4 Q700.0 371.0 703.4 370.0 L708.6 368.4 Q712.0 367.4 715.5 367.7 L722.5 368.3 Q726.0 368.6 726.0 372.1 L726.0 437.5 Q726.0 441.0 722.5 440.7 L713.2 440.1 Q709.7 439.8 706.7 438.0 L703.0 435.6 Q700.0 433.8 698.3 430.8 L696.9 428.4 Q695.2 425.4 693.9 422.1 L683.3 394.9 Q682.0 391.6 683.9 388.6Z" fill="#a81b30"/>
<ellipse cx="467.8" cy="226.3" rx="3" ry="4.3" fill="#e1907b" style="stroke-width:2.6"/>
<circle cx="402.2" cy="327.6" r="1.7" fill="#e1907b" style="stroke-width:2.6"/>
<path d="M496.5 270.5l1.8 0l0.6 4l-2.6 0z" fill="#dcdddd" stroke-width="1"/>
<path d="M620.4 419.6L630.8 416" fill="none" style="stroke-width:1.6;stroke-linecap:round"/>
</g></g>
</g>
<text x="3.7" y="14.0" font-size="13.5" font-weight="normal" fill="#383838" text-anchor="start" textLength="20.3" lengthAdjust="spacingAndGlyphs">Czy</text>
<text x="28.7" y="14.0" font-size="13.5" font-weight="normal" fill="#383838" text-anchor="start" textLength="55.4" lengthAdjust="spacingAndGlyphs">planujesz</text>
<text x="88.1" y="14.0" font-size="13.5" font-weight="normal" fill="#383838" text-anchor="start" textLength="63.1" lengthAdjust="spacingAndGlyphs">skorzystać</text>
<text x="155.4" y="14.0" font-size="13.5" font-weight="normal" fill="#383838" text-anchor="start" textLength="6.3" lengthAdjust="spacingAndGlyphs">z</text>
<text x="166.0" y="14.0" font-size="13.5" font-weight="normal" fill="#383838" text-anchor="start" textLength="45.9" lengthAdjust="spacingAndGlyphs">aplikacji</text>
<text x="216.7" y="14.0" font-size="13.5" font-weight="normal" fill="#383838" text-anchor="start" textLength="14.2" lengthAdjust="spacingAndGlyphs">do</text>
<text x="235.1" y="14.0" font-size="13.5" font-weight="normal" fill="#383838" text-anchor="start" textLength="50.7" lengthAdjust="spacingAndGlyphs">płatności</text>
<text x="290.5" y="14.0" font-size="13.5" font-weight="normal" fill="#383838" text-anchor="start" textLength="57.3" lengthAdjust="spacingAndGlyphs">mobilnych</text>
<text x="352.6" y="14.0" font-size="13.5" font-weight="normal" fill="#383838" text-anchor="start" textLength="9.1" lengthAdjust="spacingAndGlyphs">w</text>
<text x="367.1" y="14.0" font-size="13.5" font-weight="normal" fill="#383838" text-anchor="start" textLength="28.7" lengthAdjust="spacingAndGlyphs">ciągu</text>
<text x="400.6" y="14.0" font-size="13.5" font-weight="normal" fill="#383838" text-anchor="start" textLength="69.1" lengthAdjust="spacingAndGlyphs">najbliższych</text>
<text x="475.8" y="14.0" font-size="13.5" font-weight="normal" fill="#383838" text-anchor="start" textLength="12.4" lengthAdjust="spacingAndGlyphs">12</text>
<text x="494.3" y="14.0" font-size="13.5" font-weight="normal" fill="#383838" text-anchor="start" textLength="53.8" lengthAdjust="spacingAndGlyphs">miesięcy,</text>
<text x="3.7" y="32.3" font-size="13.5" font-weight="normal" fill="#383838" text-anchor="start" textLength="9.1" lengthAdjust="spacingAndGlyphs">w</text>
<text x="17.2" y="32.3" font-size="13.5" font-weight="normal" fill="#383838" text-anchor="start" textLength="28.4" lengthAdjust="spacingAndGlyphs">proc.</text>
<text x="3.7" y="60.7" font-size="13.5" font-weight="normal" fill="#383838" text-anchor="start" textLength="33.2" lengthAdjust="spacingAndGlyphs">suma</text>
<text x="40.4" y="60.7" font-size="13.5" font-weight="normal" fill="#383838" text-anchor="start" textLength="68.1" lengthAdjust="spacingAndGlyphs">odpowiedzi</text>
<text x="112.0" y="60.7" font-size="13.5" font-weight="normal" fill="#383838" text-anchor="start" textLength="75.9" lengthAdjust="spacingAndGlyphs">twierdzących</text>
<rect x="4.3" y="74.1" width="24.1" height="14.2" rx="3.6" fill="#a81b30" stroke="#fff" stroke-width="1.2" filter="url(#glow2)"/>
<rect x="4.3" y="99.1" width="24.1" height="14.2" rx="3.6" fill="#e1907b" stroke="#fff" stroke-width="1.2" filter="url(#glow2)"/>
<rect x="4.3" y="124.1" width="24.1" height="14.2" rx="3.6" fill="#c69a3c" stroke="#fff" stroke-width="1.2" filter="url(#glow2)"/>
<rect x="3.3" y="147.6" width="26.4" height="13.4" rx="3.5" fill="#fff" stroke="#b5b5b5" stroke-width="1.3" filter="url(#glow2)"/>
<text x="16.4" y="158.0" font-size="9.6" font-weight="bold" fill="#333" text-anchor="middle" textLength="15.0" lengthAdjust="spacingAndGlyphs">xxx</text>
<text x="35.7" y="84.0" font-size="13.5" font-weight="normal" fill="#383838" text-anchor="start" textLength="46.8" lengthAdjust="spacingAndGlyphs">powyżej</text>
<text x="88.0" y="84.0" font-size="13.5" font-weight="normal" fill="#383838" text-anchor="start" textLength="16.5" lengthAdjust="spacingAndGlyphs">60</text>
<text x="35.7" y="109.3" font-size="13.5" font-weight="normal" fill="#383838" text-anchor="start" textLength="41.8" lengthAdjust="spacingAndGlyphs">30–60</text>
<text x="35.7" y="135.0" font-size="13.5" font-weight="normal" fill="#383838" text-anchor="start" textLength="41.8" lengthAdjust="spacingAndGlyphs">poniżej</text>
<text x="82.0" y="135.0" font-size="13.5" font-weight="normal" fill="#383838" text-anchor="start" textLength="15.5" lengthAdjust="spacingAndGlyphs">30</text>
<text x="35.8" y="160.0" font-size="13.5" font-weight="normal" fill="#383838" text-anchor="start" textLength="8.7" lengthAdjust="spacingAndGlyphs">w</text>
<text x="48.3" y="160.0" font-size="13.5" font-weight="normal" fill="#383838" text-anchor="start" textLength="22.2" lengthAdjust="spacingAndGlyphs">tym</text>
<text x="74.7" y="160.0" font-size="13.5" font-weight="normal" fill="#383838" text-anchor="start" textLength="67.7" lengthAdjust="spacingAndGlyphs">odpowiedzi</text>
<text x="146.7" y="160.0" font-size="13.5" font-weight="normal" fill="#383838" text-anchor="start" textLength="19.6" lengthAdjust="spacingAndGlyphs">„na</text>
<text x="169.7" y="160.0" font-size="13.5" font-weight="normal" fill="#383838" text-anchor="start" textLength="43.0" lengthAdjust="spacingAndGlyphs">pewno”</text>
<text x="0.0" y="196.2" font-size="13.5" font-weight="normal" fill="#383838" text-anchor="start" textLength="52.0" lengthAdjust="spacingAndGlyphs">Dlaczego</text>
<text x="56.6" y="196.2" font-size="13.5" font-weight="normal" fill="#383838" text-anchor="start" textLength="84.2" lengthAdjust="spacingAndGlyphs">zdecydowałeś</text>
<text x="145.1" y="196.2" font-size="13.5" font-weight="normal" fill="#383838" text-anchor="start" textLength="14.8" lengthAdjust="spacingAndGlyphs">się</text>
<text x="164.2" y="196.2" font-size="13.5" font-weight="normal" fill="#383838" text-anchor="start" textLength="61.2" lengthAdjust="spacingAndGlyphs">skorzystać</text>
<text x="0.0" y="215.4" font-size="13.5" font-weight="normal" fill="#383838" text-anchor="start" textLength="6.0" lengthAdjust="spacingAndGlyphs">z</text>
<text x="9.3" y="215.4" font-size="13.5" font-weight="normal" fill="#383838" text-anchor="start" textLength="44.3" lengthAdjust="spacingAndGlyphs">aplikacji</text>
<text x="58.2" y="215.4" font-size="13.5" font-weight="normal" fill="#383838" text-anchor="start" textLength="13.9" lengthAdjust="spacingAndGlyphs">do</text>
<text x="76.4" y="215.4" font-size="13.5" font-weight="normal" fill="#383838" text-anchor="start" textLength="48.4" lengthAdjust="spacingAndGlyphs">płatności</text>
<text x="129.1" y="215.4" font-size="13.5" font-weight="normal" fill="#383838" text-anchor="start" textLength="69.8" lengthAdjust="spacingAndGlyphs">mobilnych?</text>
<text x="0.0" y="233.4" font-size="13.5" font-weight="normal" fill="#383838" text-anchor="start" textLength="7.2" lengthAdjust="spacingAndGlyphs">–</text>
<text x="11.5" y="233.4" font-size="13.5" font-weight="normal" fill="#383838" text-anchor="start" textLength="67.0" lengthAdjust="spacingAndGlyphs">odpowiedzi</text>
<text x="82.7" y="233.4" font-size="13.5" font-weight="normal" fill="#383838" text-anchor="start" textLength="9.1" lengthAdjust="spacingAndGlyphs">w</text>
<text x="95.5" y="233.4" font-size="13.5" font-weight="normal" fill="#383838" text-anchor="start" textLength="28.7" lengthAdjust="spacingAndGlyphs">proc.</text>
<path d="M126.3 238.5H221.7V452.3Q221.7 456.3 217.7 456.3H130.3Q126.3 456.3 126.3 452.3Z" fill="url(#pg)"/>
<rect x="158.3" y="239" width="0.8" height="217.3" fill="#cdcdcd"/>
<rect x="190" y="239" width="0.8" height="217.3" fill="#cdcdcd"/>
<rect x="127.0" y="247.4" width="84.0" height="38.6" rx="2.5" fill="#a81b30" stroke="#f3dcdc" stroke-width="1.4" filter="url(#glow2)"/>
<text x="204.4" y="275.3" font-size="16.8" font-weight="bold" fill="#fff" text-anchor="end" textLength="15.5" lengthAdjust="spacingAndGlyphs" stroke="#fff" stroke-width="0.3">53</text>
<rect x="127.0" y="301.5" width="74.5" height="38.6" rx="2.5" fill="#e1907b" stroke="#f7e6df" stroke-width="1.4" filter="url(#glow2)"/>
<text x="194.9" y="328.4" font-size="16.8" font-weight="bold" fill="#1a1a1a" text-anchor="end" textLength="15.5" lengthAdjust="spacingAndGlyphs" stroke="#1a1a1a" stroke-width="0.3">47</text>
<rect x="127.0" y="355.7" width="74.5" height="38.6" rx="2.5" fill="#e1907b" stroke="#f7e6df" stroke-width="1.4" filter="url(#glow2)"/>
<text x="194.9" y="382.0" font-size="16.8" font-weight="bold" fill="#1a1a1a" text-anchor="end" textLength="15.5" lengthAdjust="spacingAndGlyphs" stroke="#1a1a1a" stroke-width="0.3">47</text>
<rect x="127.0" y="409.8" width="50.7" height="38.6" rx="2.5" fill="#e1907b" stroke="#f7e6df" stroke-width="1.4" filter="url(#glow2)"/>
<text x="171.1" y="436.3" font-size="16.8" font-weight="bold" fill="#1a1a1a" text-anchor="end" textLength="15.5" lengthAdjust="spacingAndGlyphs" stroke="#1a1a1a" stroke-width="0.3">32</text>
<text x="116.0" y="265.3" font-size="13.8" font-weight="normal" fill="#262626" text-anchor="end" textLength="55.1" lengthAdjust="spacingAndGlyphs">płatności</text>
<text x="116.0" y="279.7" font-size="13.8" font-weight="normal" fill="#262626" text-anchor="end" textLength="69.1" lengthAdjust="spacingAndGlyphs">są szybsze</text>
<text x="116.0" y="309.3" font-size="13.8" font-weight="normal" fill="#262626" text-anchor="end" textLength="85.4" lengthAdjust="spacingAndGlyphs">mogę używać</text>
<text x="116.0" y="323.7" font-size="13.8" font-weight="normal" fill="#262626" text-anchor="end" textLength="116.4" lengthAdjust="spacingAndGlyphs">aplikacji w różnych</text>
<text x="116.0" y="338.1" font-size="13.8" font-weight="normal" fill="#262626" text-anchor="end" textLength="62.1" lengthAdjust="spacingAndGlyphs">miejscach</text>
<text x="116.0" y="373.0" font-size="13.8" font-weight="normal" fill="#262626" text-anchor="end" textLength="55.1" lengthAdjust="spacingAndGlyphs">płatności</text>
<text x="116.0" y="387.4" font-size="13.8" font-weight="normal" fill="#262626" text-anchor="end" textLength="79.2" lengthAdjust="spacingAndGlyphs">są łatwiejsze</text>
<text x="116.0" y="418.0" font-size="13.8" font-weight="normal" fill="#262626" text-anchor="end" textLength="79.9" lengthAdjust="spacingAndGlyphs">lubię używać</text>
<text x="116.0" y="432.4" font-size="13.8" font-weight="normal" fill="#262626" text-anchor="end" textLength="47.3" lengthAdjust="spacingAndGlyphs">nowych</text>
<text x="116.0" y="446.8" font-size="13.8" font-weight="normal" fill="#262626" text-anchor="end" textLength="66.8" lengthAdjust="spacingAndGlyphs">technologii</text>
<text x="126.2" y="471.6" font-size="10.4" font-weight="normal" fill="#707070" text-anchor="middle">0</text>
<text x="158.4" y="471.6" font-size="10.4" font-weight="normal" fill="#707070" text-anchor="middle">20</text>
<text x="190.5" y="471.6" font-size="10.4" font-weight="normal" fill="#707070" text-anchor="middle">40</text>
<text x="222.5" y="471.6" font-size="10.4" font-weight="normal" fill="#707070" text-anchor="middle">60</text>
<circle cx="7.6" cy="463.9" r="5" fill="#fff" stroke="#111" stroke-width="1.6"/>
<text x="7.6" y="466.9" font-size="8.4" font-weight="bold" fill="#111" text-anchor="middle">C</text>
<circle cx="19.2" cy="463.9" r="5" fill="#fff" stroke="#111" stroke-width="1.6"/>
<text x="19.4" y="466.9" font-size="8.4" font-weight="bold" fill="#111" text-anchor="middle">P</text>
<text x="255.4" y="438.3" font-size="10.3" font-weight="normal" fill="#444" text-anchor="start" textLength="130.4" lengthAdjust="spacingAndGlyphs">Oba pytania zostały zadane</text>
<text x="255.4" y="453.3" font-size="10.3" font-weight="normal" fill="#444" text-anchor="start" textLength="191.5" lengthAdjust="spacingAndGlyphs">tylko użytkownikom urządzeń mobilnych</text>
<text x="255.4" y="468.0" font-size="10.3" font-weight="normal" fill="#444" text-anchor="start" textLength="152.3" lengthAdjust="spacingAndGlyphs">źródło: Finansowy Barometr ING</text>
<text x="335.2" y="77.1" font-size="13.0" font-weight="normal" fill="#1e1e1e" text-anchor="start" textLength="68.5" lengthAdjust="spacingAndGlyphs">W. Brytania</text>
<text x="335.3" y="95.0" font-size="15.7" font-weight="bold" fill="#1e1e1e" text-anchor="start" textLength="18.0" lengthAdjust="spacingAndGlyphs" stroke="#1e1e1e" stroke-width="0.35">46</text>
<rect x="358.4" y="82.1" width="22.6" height="17.0" rx="3.2" fill="#fff" stroke="#d2d2d2" stroke-width="1.4" filter="url(#glow2)"/>
<text x="369.7" y="94.8" font-size="12.0" font-weight="normal" fill="#1e1e1e" text-anchor="middle">16</text>
<text x="435.4" y="129.5" font-size="13.0" font-weight="normal" fill="#1e1e1e" text-anchor="start" textLength="53.0" lengthAdjust="spacingAndGlyphs">Holandia</text>
<text x="435.1" y="148.0" font-size="15.7" font-weight="bold" fill="#1e1e1e" text-anchor="start" textLength="17.7" lengthAdjust="spacingAndGlyphs" stroke="#1e1e1e" stroke-width="0.35">27</text>
<rect x="456.8" y="134.1" width="23.2" height="17.3" rx="3.2" fill="#fff" stroke="#d2d2d2" stroke-width="1.4" filter="url(#glow2)"/>
<text x="468.4" y="146.9" font-size="12.0" font-weight="normal" fill="#1e1e1e" text-anchor="middle">7</text>
<text x="270.0" y="196.8" font-size="13.0" font-weight="normal" fill="#1e1e1e" text-anchor="start" textLength="75.4" lengthAdjust="spacingAndGlyphs">Luksemburg</text>
<text x="269.7" y="214.3" font-size="15.7" font-weight="bold" fill="#1e1e1e" text-anchor="start" textLength="18.4" lengthAdjust="spacingAndGlyphs" stroke="#1e1e1e" stroke-width="0.35">32</text>
<rect x="291.4" y="199.6" width="23.7" height="18.3" rx="3.2" fill="#fff" stroke="#d2d2d2" stroke-width="1.4" filter="url(#glow2)"/>
<text x="303.2" y="212.9" font-size="12.0" font-weight="normal" fill="#1e1e1e" text-anchor="middle">12</text>
<text x="412.9" y="197.1" font-size="13.0" font-weight="normal" fill="#1e1e1e" text-anchor="start" textLength="37.3" lengthAdjust="spacingAndGlyphs">Belgia</text>
<text x="412.7" y="215.2" font-size="15.7" font-weight="bold" fill="#1e1e1e" text-anchor="start" textLength="17.7" lengthAdjust="spacingAndGlyphs" stroke="#1e1e1e" stroke-width="0.35">32</text>
<rect x="434.9" y="201.6" width="23.2" height="17.0" rx="3.2" fill="#fff" stroke="#d2d2d2" stroke-width="1.4" filter="url(#glow2)"/>
<text x="446.5" y="214.3" font-size="12.0" font-weight="normal" fill="#1e1e1e" text-anchor="middle">9</text>
<text x="490.5" y="203.5" font-size="13.0" font-weight="normal" fill="#1e1e1e" text-anchor="start" textLength="44.7" lengthAdjust="spacingAndGlyphs">Niemcy</text>
<text x="490.2" y="221.6" font-size="15.7" font-weight="bold" fill="#1e1e1e" text-anchor="start" textLength="17.9" lengthAdjust="spacingAndGlyphs" stroke="#1e1e1e" stroke-width="0.35">35</text>
<rect x="512.8" y="207.6" width="22.3" height="17.8" rx="3.2" fill="#fff" stroke="#d2d2d2" stroke-width="1.4" filter="url(#glow2)"/>
<text x="524.0" y="220.7" font-size="12.0" font-weight="normal" fill="#1e1e1e" text-anchor="middle">13</text>
<text x="534.3" y="236.0" font-size="13.0" font-weight="normal" fill="#1e1e1e" text-anchor="start" textLength="43.4" lengthAdjust="spacingAndGlyphs">Czechy</text>
<text x="534.0" y="254.6" font-size="15.7" font-weight="bold" fill="#1e1e1e" text-anchor="start" textLength="17.6" lengthAdjust="spacingAndGlyphs" stroke="#1e1e1e" stroke-width="0.35">30</text>
<rect x="556.6" y="241.2" width="22.8" height="17.5" rx="3.2" fill="#fff" stroke="#d2d2d2" stroke-width="1.4" filter="url(#glow2)"/>
<text x="568.0" y="254.1" font-size="12.0" font-weight="normal" fill="#1e1e1e" text-anchor="middle">12</text>
<text x="575.7" y="196.8" font-size="13.0" font-weight="normal" fill="#fff" text-anchor="start" textLength="39.3" lengthAdjust="spacingAndGlyphs">Polska</text>
<text x="575.4" y="214.7" font-size="15.7" font-weight="bold" fill="#fff" text-anchor="start" textLength="18.0" lengthAdjust="spacingAndGlyphs" stroke="#fff" stroke-width="0.35">67</text>
<rect x="597.7" y="201.0" width="22.9" height="18.0" rx="3.2" fill="#fff" filter="url(#glow2)"/>
<text x="609.1" y="214.2" font-size="12.0" font-weight="normal" fill="#1e1e1e" text-anchor="middle">28</text>
<text x="396.7" y="261.7" font-size="13.0" font-weight="normal" fill="#1e1e1e" text-anchor="start" textLength="43.9" lengthAdjust="spacingAndGlyphs">Francja</text>
<text x="396.4" y="279.8" font-size="15.7" font-weight="bold" fill="#1e1e1e" text-anchor="start" textLength="17.7" lengthAdjust="spacingAndGlyphs" stroke="#1e1e1e" stroke-width="0.35">39</text>
<rect x="419.0" y="267.4" width="22.8" height="16.9" rx="3.2" fill="#fff" stroke="#d2d2d2" stroke-width="1.4" filter="url(#glow2)"/>
<text x="430.4" y="280.1" font-size="12.0" font-weight="normal" fill="#1e1e1e" text-anchor="middle">12</text>
<text x="304.8" y="339.9" font-size="13.0" font-weight="normal" fill="#1e1e1e" text-anchor="start" textLength="59.0" lengthAdjust="spacingAndGlyphs">Hiszpania</text>
<text x="304.5" y="358.0" font-size="15.7" font-weight="bold" fill="#1e1e1e" text-anchor="start" textLength="17.1" lengthAdjust="spacingAndGlyphs" stroke="#1e1e1e" stroke-width="0.35">56</text>
<rect x="326.4" y="345.0" width="23.0" height="16.9" rx="3.2" fill="#fff" stroke="#d2d2d2" stroke-width="1.4" filter="url(#glow2)"/>
<text x="337.9" y="357.6" font-size="12.0" font-weight="normal" fill="#1e1e1e" text-anchor="middle">18</text>
<text x="532.5" y="275.3" font-size="13.0" font-weight="normal" fill="#1e1e1e" text-anchor="start" textLength="42.0" lengthAdjust="spacingAndGlyphs">Austria</text>
<text x="532.2" y="293.5" font-size="15.7" font-weight="bold" fill="#1e1e1e" text-anchor="start" textLength="17.4" lengthAdjust="spacingAndGlyphs" stroke="#1e1e1e" stroke-width="0.35">27</text>
<rect x="554.8" y="280.9" width="23.2" height="16.9" rx="3.2" fill="#fff" stroke="#d2d2d2" stroke-width="1.4" filter="url(#glow2)"/>
<text x="566.4" y="293.6" font-size="12.0" font-weight="normal" fill="#1e1e1e" text-anchor="middle">8</text>
<text x="504.8" y="348.1" font-size="13.0" font-weight="normal" fill="#1e1e1e" text-anchor="start" textLength="44.6" lengthAdjust="spacingAndGlyphs">Włochy</text>
<text x="504.5" y="366.2" font-size="15.7" font-weight="bold" fill="#1e1e1e" text-anchor="start" textLength="18.3" lengthAdjust="spacingAndGlyphs" stroke="#1e1e1e" stroke-width="0.35">60</text>
<rect x="527.7" y="354.1" width="22.3" height="16.6" rx="3.2" fill="#fff" stroke="#d2d2d2" stroke-width="1.4" filter="url(#glow2)"/>
<text x="538.9" y="366.6" font-size="12.0" font-weight="normal" fill="#1e1e1e" text-anchor="middle">20</text>
<text x="633.5" y="295.7" font-size="13.0" font-weight="normal" fill="#1e1e1e" text-anchor="start" textLength="54.3" lengthAdjust="spacingAndGlyphs">Rumunia</text>
<text x="633.2" y="313.8" font-size="15.7" font-weight="bold" fill="#1e1e1e" text-anchor="start" textLength="17.7" lengthAdjust="spacingAndGlyphs" stroke="#1e1e1e" stroke-width="0.35">55</text>
<rect x="655.4" y="300.8" width="23.1" height="16.9" rx="3.2" fill="#fff" stroke="#d2d2d2" stroke-width="1.4" filter="url(#glow2)"/>
<text x="666.9" y="313.4" font-size="12.0" font-weight="normal" fill="#1e1e1e" text-anchor="middle">19</text>
<text x="669.8" y="351.7" font-size="13.0" font-weight="normal" fill="#1e1e1e" text-anchor="start" textLength="33.8" lengthAdjust="spacingAndGlyphs">Turcja</text>
<text x="693.3" y="401.2" font-size="24.6" font-weight="bold" fill="#fff" text-anchor="start" textLength="24.9" lengthAdjust="spacingAndGlyphs">78</text>
<rect x="694.8" y="407.8" width="22.5" height="16.7" rx="3" fill="#fff" filter="url(#glow2)"/>
<text x="706.0" y="420.3" font-size="13.0" font-weight="normal" fill="#1e1e1e" text-anchor="middle">37</text>
<path d="M443.5 152.5V154.9H468.5V182.4" fill="none" stroke="#4a4a4a" stroke-width="0.9"/>
<path d="M279.5 220.7V227.5H467" fill="none" stroke="#4a4a4a" stroke-width="0.9"/>
<path d="M688 355.3V393H692" fill="none" stroke="#4a4a4a" stroke-width="0.9"/>
</svg>
</body></html>
